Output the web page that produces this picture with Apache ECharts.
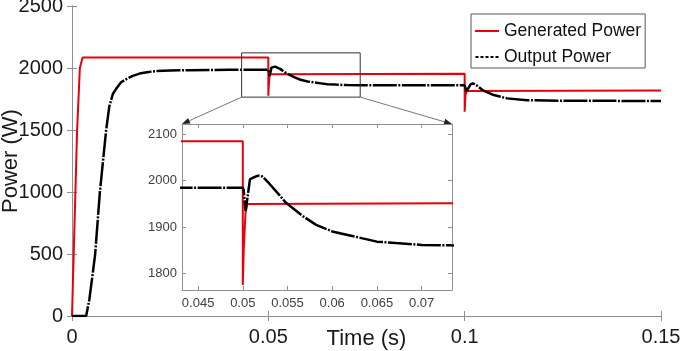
<!DOCTYPE html>
<html>
<head>
<meta charset="utf-8">
<title>Power</title>
<script src="https://cdn.jsdelivr.net/npm/echarts@6/dist/echarts.min.js"></script>
<style>
  html, body { margin: 0; padding: 0; background: #fff; }
  #chart { width: 680px; height: 351px; }
</style>
</head>
<body>
<div id="chart"></div>
<script>
// data: [time (s), power (W)]
var generatedPower = [
  [0, 0], [0.0013, 1500], [0.002, 2000], [0.0027, 2085],
  [0.05, 2085], [0.05, 1776], [0.0501, 1850], [0.0503, 1930], [0.0505, 1950], [0.0507, 1953],
  [0.1, 1953], [0.1, 1648], [0.1002, 1780], [0.1005, 1815], [0.15, 1818]
];
var outputPower = [
  [0, 0], [0.0036, 0], [0.0044, 130], [0.0053, 347], [0.0059, 500], [0.0065, 750],
  [0.0071, 1000], [0.0079, 1250], [0.0087, 1500], [0.0095, 1690], [0.0104, 1790],
  [0.0112, 1830], [0.0125, 1885], [0.0138, 1910], [0.0155, 1937], [0.0172, 1955],
  [0.0195, 1968], [0.0214, 1975], [0.025, 1980], [0.03, 1982], [0.035, 1984],
  [0.04, 1985], [0.05, 1985], [0.0501, 1980], [0.0503, 1935], [0.0505, 1960],
  [0.0508, 2003], [0.0512, 2007], [0.0517, 2011], [0.0522, 2009], [0.053, 1993],
  [0.0541, 1969], [0.0548, 1953], [0.055, 1949], [0.0567, 1924], [0.0582, 1905],
  [0.06, 1891], [0.0616, 1884], [0.0634, 1876], [0.065, 1869], [0.0671, 1866],
  [0.07, 1862], [0.0733, 1861], [0.08, 1860], [0.09, 1860], [0.1, 1860],
  [0.1002, 1840], [0.1004, 1812], [0.1008, 1830], [0.1015, 1868], [0.1021, 1876],
  [0.103, 1860], [0.1048, 1817], [0.1074, 1782], [0.1108, 1755], [0.1159, 1740],
  [0.125, 1736], [0.15, 1734]
];
var insetXTicks = [0.045, 0.05, 0.055, 0.06, 0.065, 0.07];
var insetYTicks = [1800, 1900, 2000, 2100];
var zoomRange = { xMin: 0.0432, xMax: 0.0734, yMin: 1765, yMax: 2122 };

var font = "'Liberation Sans', Arial, sans-serif";
var axisColor = "#909090";
var inset = { left: 182, top: 124, width: 270, height: 166 };

var myChart = echarts.init(document.getElementById("chart"));

function frameAxis(extra) {
  var base = {
    axisLine: { show: true, lineStyle: { color: axisColor, width: 1 } },
    axisTick: { show: true, inside: true, length: 5, lineStyle: { color: axisColor } },
    axisLabel: { show: false },
    splitLine: { show: false },
  };
  return Object.assign(base, extra);
}

function plain(v) {
  return String(v);
}

var option = {
  animation: false,
  backgroundColor: "#fff",
  textStyle: { fontFamily: font },
  legend: {
    orient: "vertical",
    left: 471,
    top: 14,
    backgroundColor: "#fff",
    borderColor: "#555",
    borderWidth: 1,
    borderRadius: 0,
    padding: [8, 4, 2, 4],
    itemGap: 8,
    itemWidth: 24,
    itemHeight: 2,
    textStyle: { fontSize: 17.5, color: "#111", fontFamily: font, lineHeight: 18 },
    data: [
      { name: "Generated Power", icon: "rect" },
      {
        name: "Output Power",
        icon: "path://M0,0h3v2h-3zM5,0h3v2h-3zM10,0h3v2h-3zM15,0h3v2h-3zM20,0h3v2h-3z",
      },
    ],
  },
  grid: [
    { left: 72, top: 6, width: 589, height: 310, show: false, outerBoundsMode: "none" },
    {
      left: inset.left, top: inset.top, width: inset.width, height: inset.height,
      show: true, backgroundColor: "#fff", borderWidth: 0, zlevel: 1, outerBoundsMode: "none",
    },
  ],
  xAxis: [
    frameAxis({
      type: "value", gridIndex: 0, position: "bottom",
      min: 0, max: 0.15, interval: 0.05,
      name: "Time (s)", nameLocation: "middle", nameGap: 12, nameMoveOverlap: false,
      nameTextStyle: { fontSize: 22, color: "#1a1a1a", fontFamily: font },
      axisLabel: { show: true, fontSize: 20, color: "#1a1a1a", margin: 11, formatter: plain },
    }),
    frameAxis({ type: "value", gridIndex: 0, position: "top", min: 0, max: 0.15, interval: 0.05 }),
    frameAxis({
      type: "value", gridIndex: 1, position: "bottom", zlevel: 1,
      min: zoomRange.xMin, max: zoomRange.xMax,
      axisTick: { show: true, inside: true, length: 4, customValues: insetXTicks, lineStyle: { color: axisColor } },
      axisLabel: { show: true, fontSize: 13, color: "#404040", margin: 7, customValues: insetXTicks, formatter: plain },
    }),
    frameAxis({
      type: "value", gridIndex: 1, position: "top", zlevel: 1,
      min: zoomRange.xMin, max: zoomRange.xMax,
      axisTick: { show: true, inside: true, length: 4, customValues: insetXTicks, lineStyle: { color: axisColor } },
    }),
  ],
  yAxis: [
    frameAxis({
      type: "value", gridIndex: 0, position: "left",
      min: 0, max: 2500, interval: 500,
      name: "Power (W)", nameLocation: "middle", nameGap: 50, nameMoveOverlap: false,
      nameTextStyle: { fontSize: 22, color: "#1a1a1a", fontFamily: font },
      axisLabel: { show: true, fontSize: 20, color: "#1a1a1a", margin: 9, formatter: plain },
    }),
    frameAxis({ type: "value", gridIndex: 0, position: "right", min: 0, max: 2500, interval: 500 }),
    frameAxis({
      type: "value", gridIndex: 1, position: "left", zlevel: 1,
      min: zoomRange.yMin, max: zoomRange.yMax,
      axisTick: { show: true, inside: true, length: 4, customValues: insetYTicks, lineStyle: { color: axisColor } },
      axisLabel: { show: true, fontSize: 13, color: "#404040", margin: 5, customValues: insetYTicks, formatter: plain },
    }),
    frameAxis({
      type: "value", gridIndex: 1, position: "right", zlevel: 1,
      min: zoomRange.yMin, max: zoomRange.yMax,
      axisTick: { show: true, inside: true, length: 4, customValues: insetYTicks, lineStyle: { color: axisColor } },
    }),
  ],
  series: [
    {
      name: "Generated Power", type: "line", xAxisIndex: 0, yAxisIndex: 0,
      data: generatedPower, symbol: "none",
      lineStyle: { color: "#e8000b", width: 2 }, itemStyle: { color: "#e8000b" },
    },
    {
      name: "Output Power", type: "line", xAxisIndex: 0, yAxisIndex: 0,
      data: outputPower, symbol: "none",
      lineStyle: { color: "#000", width: 2.5, type: [24, 1.5, 2, 1.5] }, itemStyle: { color: "#000" },
    },
    {
      name: "Generated Power", type: "line", xAxisIndex: 2, yAxisIndex: 2, zlevel: 1,
      data: generatedPower, symbol: "none",
      lineStyle: { color: "#e8000b", width: 2 }, itemStyle: { color: "#e8000b" },
    },
    {
      name: "Output Power", type: "line", xAxisIndex: 2, yAxisIndex: 2, zlevel: 1,
      data: outputPower, symbol: "none",
      lineStyle: { color: "#000", width: 2.5, type: [24, 1.5, 2, 1.5] }, itemStyle: { color: "#000" },
    },
  ],
};

myChart.setOption(option);

// zoom box on the main plot and the two arrows to the inset
var p1 = myChart.convertToPixel({ xAxisIndex: 0, yAxisIndex: 0 }, [zoomRange.xMin, zoomRange.yMax]);
var p2 = myChart.convertToPixel({ xAxisIndex: 0, yAxisIndex: 0 }, [zoomRange.xMax, zoomRange.yMin]);
var insetTL = [inset.left, inset.top];
var insetTR = [inset.left + inset.width, inset.top];

function arrow(from, to) {
  var dx = to[0] - from[0], dy = to[1] - from[1];
  var len = Math.sqrt(dx * dx + dy * dy);
  var ux = dx / len, uy = dy / len;
  var hl = 8, hw = 3;
  var bx = to[0] - ux * hl, by = to[1] - uy * hl;
  return [
    {
      type: "line", zlevel: 1,
      shape: { x1: from[0], y1: from[1], x2: bx, y2: by },
      style: { stroke: "#777", lineWidth: 1 },
    },
    {
      type: "polygon", zlevel: 1,
      shape: { points: [to, [bx - uy * hw, by + ux * hw], [bx + uy * hw, by - ux * hw]] },
      style: { fill: "#222" },
    },
  ];
}

myChart.setOption({
  graphic: [
    {
      type: "rect",
      shape: { x: p1[0], y: p1[1], width: p2[0] - p1[0], height: p2[1] - p1[1] },
      style: { fill: null, stroke: "#333", lineWidth: 1 },
      z: 50,
    },
  ]
    .concat(arrow([p1[0], p2[1]], insetTL))
    .concat(arrow([p2[0], p2[1]], insetTR)),
});

window.addEventListener("resize", function () {
  myChart.resize();
});
</script>
</body>
</html>
